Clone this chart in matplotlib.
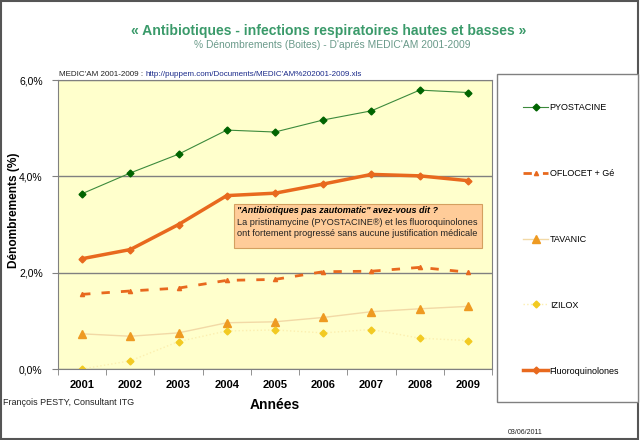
import matplotlib.pyplot as plt
from matplotlib.patches import Rectangle
from matplotlib.ticker import FuncFormatter, FixedLocator

plt.rcParams["font.family"] = ["Liberation Sans", "DejaVu Sans"]

# données (% dénombrements)
annees = ["2001", "2002", "2003", "2004", "2005", "2006", "2007", "2008", "2009"]
pyostacine = [3.64, 4.07, 4.46, 4.96, 4.92, 5.17, 5.36, 5.79, 5.74]
oflocet = [1.55, 1.62, 1.68, 1.84, 1.86, 2.02, 2.03, 2.11, 2.01]
tavanic = [0.73, 0.68, 0.75, 0.96, 0.98, 1.07, 1.19, 1.25, 1.30]
izilox = [0.00, 0.17, 0.57, 0.79, 0.81, 0.75, 0.82, 0.64, 0.59]
fluoroquinolones = [2.29, 2.48, 3.00, 3.60, 3.65, 3.84, 4.04, 4.01, 3.91]

x = list(range(len(annees)))

fig = plt.figure(figsize=(6.4, 4.4), dpi=100)
# cadre général
fig.patches.append(Rectangle((0.002, 0.003), 0.995, 0.994, transform=fig.transFigure,
                             fill=False, edgecolor="#555555", linewidth=1.5))

ax = fig.add_axes([58 / 640, 1 - 369 / 440, 434 / 640, 289 / 440])
ax.set_facecolor("#FFFFCC")

l1, = ax.plot(x, pyostacine, color="#3C8A3C", lw=0.8, marker="D", ms=3.5,
              mfc="#006400", mec="#006400", label="PYOSTACINE")
l2, = ax.plot(x, oflocet, color="#E8691E", lw=2, ls=(0, (3, 4)), marker="^", ms=3,
              mfc="#E8691E", mec="#E8691E", label="OFLOCET + Gé")
l3, = ax.plot(x, tavanic, color="#F2D9A6", lw=1, marker="^", ms=5.5,
              mfc="#EE9A22", mec="#EE9A22", label="TAVANIC")
l4, = ax.plot(x, izilox, color="#FCEFB0", lw=1, ls=":", marker="D", ms=3.5,
              mfc="#F2CA22", mec="#F2CA22", label="IZILOX")
l5, = ax.plot(x, fluoroquinolones, color="#E8691E", lw=2.5, marker="D", ms=3.5,
              mfc="#E8691E", mec="#E8691E", label="Fluoroquinolones")

ax.set_xlim(-0.5, len(annees) - 0.5)
ax.set_ylim(0, 6)
ax.set_yticks([0, 2, 4, 6])
ax.yaxis.set_major_formatter(FuncFormatter(lambda v, p: f"{v:.1f}%".replace(".", ",")))
ax.grid(axis="y", color="#808080", lw=1)
ax.set_axisbelow(True)

ax.set_xticks(x)
ax.set_xticklabels(annees, fontsize=8, fontweight="bold")
ax.tick_params(axis="x", which="major", length=0, pad=8)
ax.xaxis.set_minor_locator(FixedLocator([i - 0.5 for i in range(len(annees) + 1)]))
ax.tick_params(axis="x", which="minor", length=4, color="#808080")
ax.tick_params(axis="y", length=4, color="#808080", labelsize=7.5, pad=7)
for s in ax.spines.values():
    s.set_color("#808080")

ax.set_ylabel("Dénombrements (%)", fontsize=8.6, fontweight="bold")
ax.yaxis.set_label_coords(-0.088, 0.55)
ax.set_xlabel("Années", fontsize=10, fontweight="bold", labelpad=6)

# encadré de commentaire
ax.add_patch(Rectangle((0.406, 0.419), 0.571, 0.152, transform=ax.transAxes,
                       facecolor="#FFCC99", edgecolor="#D4A060", lw=0.8, zorder=4))
ax.text(0.412, 0.548, "\"Antibiotiques pas zautomatic\" avez-vous dit ?", transform=ax.transAxes,
        fontsize=6.5, fontweight="bold", fontstyle="italic", va="center", zorder=5)
ax.text(0.412, 0.508, "La pristinamycine (PYOSTACINE®) et les fluoroquinolones",
        transform=ax.transAxes, fontsize=6.6, va="center", color="#222222", zorder=5)
ax.text(0.412, 0.470, "ont fortement progressé sans aucune justification médicale",
        transform=ax.transAxes, fontsize=6.6, va="center", color="#222222", zorder=5)

# titres
fig.text(0.513, 1 - 31 / 440, "« Antibiotiques - infections respiratoires hautes et basses »",
         ha="center", va="center", fontsize=10.1, fontweight="bold", color="#3A9A6A")
fig.text(0.519, 1 - 45 / 440, "% Dénombrements (Boites) - D'aprés MEDIC'AM 2001-2009",
         ha="center", va="center", fontsize=7.4, color="#6A9A8A")
fig.text(59 / 640, 1 - 74 / 440, "MEDIC'AM 2001-2009 :", fontsize=5.8, va="center", color="#222222")
fig.text(146 / 640, 1 - 74 / 440, "http://puppem.com/Documents/MEDIC'AM%202001-2009.xls",
         fontsize=5.8, va="center", color="#1A2A8A")
fig.text(3 / 640, 1 - 402 / 440, "François PESTY, Consultant ITG", fontsize=6.5, va="center",
         color="#222222")
fig.text(508 / 640, 1 - 432 / 440, "03/06/2011", fontsize=5, va="center", color="#222222")

# légende
fig.patches.append(Rectangle((497 / 640, 1 - 402 / 440), 141 / 640, 328 / 440,
                             transform=fig.transFigure, facecolor="white",
                             edgecolor="#808080", lw=1))
fig.legend(handles=[l1, l2, l3, l4, l5], loc="upper left",
           bbox_to_anchor=(523 / 640, 1 - 103 / 440), frameon=False, fontsize=6.5,
           borderpad=0, borderaxespad=0, labelspacing=6.3, handlelength=2.8,
           handletextpad=0.15)

fig.savefig("out.png", dpi=100)
